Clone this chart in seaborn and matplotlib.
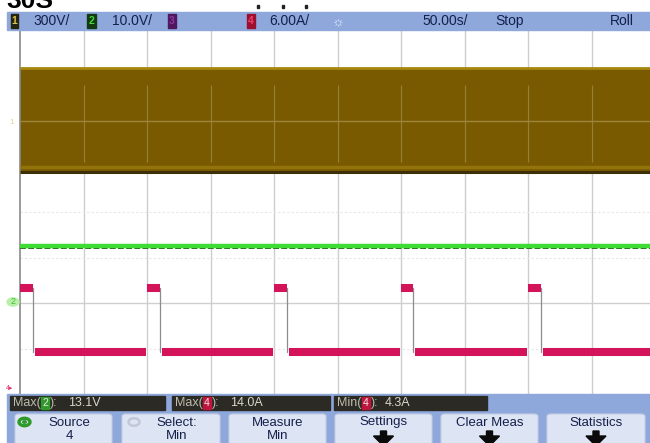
import matplotlib
matplotlib.use("Agg")
import matplotlib.pyplot as plt
import matplotlib.transforms as mtransforms
from matplotlib.patches import Rectangle, FancyBboxPatch, Polygon, Circle
import pandas as pd
import seaborn as sns

time_window_s = [0, 500]                       # 10 div x 50 s/div
ch1_env_hi_v = [348, 348]                      # AC mains envelope (rolled, looks like a band)
ch1_env_lo_v = [-336, -336]
ch2_level_v = [12.5, 12.5]                     # DC level (green)
ch2_fringe_v = [12.05, 12.05]
ch4_high_start_s = [0, 100, 200, 300, 400]     # pink current pulses
ch4_high_end_s = [10.2, 110.2, 210.2, 309.8, 410.2]
ch4_high_a = [13.3, 13.3, 13.3, 13.3, 13.3]
ch4_low_start_s = [11.8, 111.8, 211.8, 311.4, 411.8]
ch4_low_end_s = [99.2, 199.2, 299.2, 399.2, 500]
ch4_low_a = [4.8, 4.8, 4.8, 4.8, 4.8]

channel_ids = ["1", "2", "3", "4"]
channel_scales = ["300V/", "10.0V/", "", "6.00A/"]
timebase = "50.00s/"
run_state = "Stop"
mode = "Roll"
meas_names = ["Max", "Max", "Min"]
meas_channels = ["2", "4", "4"]
meas_values = ["13.1V", "14.0A", "4.3A"]
softkey_top = ["Source", "Select:", "Measure", "Settings", "Clear Meas", "Statistics"]
softkey_bottom = ["4", "Min", "Min", "", "", ""]

# vertical settings: units/div and ground position (divisions from bottom)
CH1_SCALE, CH1_GND = 300.0, 6.0
CH2_SCALE, CH2_GND = 10.0, 2.0
CH4_SCALE, CH4_GND = 6.0, 0.12

def to_div(vals, scale, gnd):
    return [v / scale + gnd for v in vals]

# ---------------- figure ----------------
sns.set_style("white")
plt.rcParams["font.family"] = ["Liberation Sans", "DejaVu Sans"]
W, H = 650, 443
fig = plt.figure(figsize=(W / 100, H / 100), dpi=100)
fig.patch.set_facecolor("white")

def FX(px): return px / W
def FY(py): return 1 - py / H

def prect(x0, y0, x1, y1, **kw):
    r = Rectangle((FX(x0), FY(y1)), (x1 - x0) / W, (y1 - y0) / H,
                  transform=fig.transFigure, **kw)
    fig.patches.append(r)
    return r

def ptext(x, y, s, **kw):
    kw.setdefault("va", "center")
    return fig.text(FX(x), FY(y), s, **kw)

ax = fig.add_axes([FX(20), FY(394), 635 / W, 364 / H])
ax.set_xlim(0, 500)
ax.set_ylim(0, 8)
ax.set_facecolor("white")
for s in ["top", "right", "bottom"]:
    ax.spines[s].set_visible(False)
ax.spines["left"].set_color("#8a8a8a")
ax.spines["left"].set_linewidth(1.2)
ax.set_xticks([])
ax.set_yticks([])

# graticule
for gx in range(50, 500, 50):
    ax.axvline(gx, color="#cdcdcd", lw=1.0, zorder=0)
for gy in range(1, 8):
    if gy == 2:
        ax.axhline(gy, color="#cfcfcf", lw=1.0, zorder=0)
    else:
        ax.axhline(gy, color="#e6e6e6", lw=0.8, ls=(0, (2, 2)), zorder=0)

# channel 1: AC band
t = time_window_s
hi1 = to_div(ch1_env_hi_v, CH1_SCALE, CH1_GND)
lo1 = to_div(ch1_env_lo_v, CH1_SCALE, CH1_GND)
ax.fill_between(t, lo1, hi1, color="#7a5a01", zorder=2, lw=0)
df1 = pd.DataFrame({"t": t + t, "y": hi1 + lo1, "edge": ["hi", "hi", "lo", "lo"]})
sns.lineplot(data=df1[df1.edge == "hi"], x="t", y="y", color="#a6870f", lw=2.0,
             ax=ax, legend=False, zorder=3, solid_capstyle="butt")
l_light = sns.lineplot(data=df1[df1.edge == "lo"], x="t", y="y", color="#91730a", lw=2.5,
                       ax=ax, legend=False, zorder=3, solid_capstyle="butt").lines[-1]
l_light.set_transform(ax.transData + mtransforms.ScaledTranslation(0, 5 / 100, fig.dpi_scale_trans))
sns.lineplot(data=df1[df1.edge == "lo"], x="t", y="y", color="#3e3006", lw=2.2,
             ax=ax, legend=False, zorder=3, solid_capstyle="butt")
# graticule seen through the band
ax.vlines(list(range(50, 500, 50)), 5.1, 6.79, colors="#96803a", lw=0.8, zorder=4)
ax.hlines(CH1_GND, 0, 500, colors="#9c863c", lw=1.0, zorder=4)

# channel 2: green DC level
df2 = pd.DataFrame({"t": t, "y": to_div(ch2_level_v, CH2_SCALE, CH2_GND)})
df2f = pd.DataFrame({"t": t, "y": to_div(ch2_fringe_v, CH2_SCALE, CH2_GND)})
sns.lineplot(data=df2f, x="t", y="y", color="#245e1c", lw=1.4, ls=(0, (3, 1.2)),
             ax=ax, legend=False, zorder=5)
sns.lineplot(data=df2, x="t", y="y", color="#3fdc36", lw=3.2,
             ax=ax, legend=False, zorder=6, solid_capstyle="butt")

# channel 4: pink pulses
rows_hi, rows_lo, rows_edge = [], [], []
for i, (s, e, v) in enumerate(zip(ch4_high_start_s, ch4_high_end_s, ch4_high_a)):
    y = v / CH4_SCALE + CH4_GND
    rows_hi += [(i, s, y), (i, e, y)]
for i, (s, e, v) in enumerate(zip(ch4_low_start_s, ch4_low_end_s, ch4_low_a)):
    y = v / CH4_SCALE + CH4_GND
    rows_lo += [(i, s, y), (i, e, y)]
for i, (e, vh, vl) in enumerate(zip(ch4_high_end_s, ch4_high_a, ch4_low_a)):
    rows_edge += [(i, e, vh / CH4_SCALE + CH4_GND), (i, e, vl / CH4_SCALE + CH4_GND)]
cols = ["seg", "t", "y"]
dfe = pd.DataFrame(rows_edge, columns=cols)
dfh = pd.DataFrame(rows_hi, columns=cols)
dfl = pd.DataFrame(rows_lo, columns=cols)
sns.lineplot(data=dfe, x="t", y="y", units="seg", estimator=None, color="#8c8c8c",
             lw=0.9, ax=ax, legend=False, zorder=6)
for d in (dfh, dfl):
    sns.lineplot(data=d, x="t", y="y", units="seg", estimator=None, color="#d3145b",
                 lw=5.8, ax=ax, legend=False, zorder=7, solid_capstyle="butt")
ax.set_xlabel("")
ax.set_ylabel("")

# ground markers at left
ptext(12, 122, channel_ids[0], color="#e6d49a", fontsize=6, ha="center")
fig.patches.append(Circle((FX(13), FY(302)), 6 / W, transform=fig.transFigure,
                          color="#b8f0a8", zorder=1))
ptext(13, 302, channel_ids[1], color="#3fbf36", fontsize=6.5, ha="center")
ptext(10, 388, channel_ids[3] + "▸", color="#e0306a", fontsize=5, ha="center")

# ---------------- header bar ----------------
HB = "#8ea8dc"
TXT = "#15204a"
prect(7, 12, 650, 30, color=HB, zorder=10)
chip_specs = [(11, 18, "#26240e", "#d6c24c"), (87, 96, "#143a14", "#3fdc36"),
              (168, 176, "#50165e", "#8a3aa0"), (247, 255, "#9c0f2e", "#f0406e")]
for (x0, x1, bg, fg), cid in zip(chip_specs, channel_ids):
    prect(x0, 14, x1, 28, color=bg, zorder=11)
    ptext((x0 + x1) / 2, 21, cid, color=fg, fontsize=7.5, ha="center", weight="bold", zorder=12)
scale_x = [33, 112, None, 269]
for x, lab in zip(scale_x, channel_scales):
    if x is not None and lab:
        ptext(x, 21, lab, color=TXT, fontsize=10, ha="left", zorder=12)
ptext(338, 21, "☼", color="#e6eeff", fontsize=10, ha="center", zorder=12)
ptext(422, 21, timebase, color=TXT, fontsize=10, ha="left", zorder=12)
ptext(495, 21, run_state, color=TXT, fontsize=10, ha="left", zorder=12)
ptext(610, 21, mode, color=TXT, fontsize=10, ha="left", zorder=12)

# cropped title remnants at top
fig.text(FX(6), FY(8), "30S", fontsize=19, weight="bold", color="black",
         ha="left", va="baseline")
for dx in (257, 282, 305):
    prect(dx, 5, dx + 2, 8, color="#222222", zorder=10)

# ---------------- measurement bar ----------------
prect(7, 394, 650, 443, color=HB, zorder=10)
meas_boxes = [(10, 165), (172, 330), (334, 487)]
chip_x = [41, 203, 362]
val_x = [68, 230, 385]
chip_col = {"2": "#2f9a2a", "4": "#c0143c"}
for (x0, x1), nm, ch, val, cx, vx in zip(meas_boxes, meas_names, meas_channels,
                                         meas_values, chip_x, val_x):
    prect(x0, 396, x1, 410, color="#2b2a24", zorder=11)
    ptext(x0 + 3, 403, nm + "(", color="#bdbcae", fontsize=9, ha="left", zorder=12)
    prect(cx, 397, cx + 8, 409, color=chip_col[ch], zorder=12)
    ptext(cx + 4, 403, ch, color="#e8e8e8", fontsize=7.5, ha="center", zorder=13)
    ptext(cx + 9, 403, "):", color="#bdbcae", fontsize=9, ha="left", zorder=12)
    ptext(vx, 403, val, color="#d8d7c8", fontsize=9, ha="left", zorder=12)

# ---------------- softkeys ----------------
keys = [(15, 112), (122, 220), (229, 326), (335, 432), (441, 538), (547, 645)]
for (x0, x1), top, bot in zip(keys, softkey_top, softkey_bottom):
    b = FancyBboxPatch((FX(x0), FY(448)), (x1 - x0) / W, 34 / H,
                       boxstyle="round,pad=0,rounding_size=0.006",
                       transform=fig.transFigure, facecolor="#dde4f4",
                       edgecolor="#c4cde4", lw=0.8, zorder=11)
    fig.patches.append(b)
    cx = (x0 + x1) / 2
    shift = 6 if x0 in (15, 122) else 0
    ptext(cx + shift, 422.5, top, color=TXT, fontsize=9.5, ha="center", zorder=12)
    if bot:
        ptext(cx + shift, 436, bot, color=TXT, fontsize=9.5, ha="center", zorder=12)
    else:
        arrow = Polygon([(FX(cx - 3), FY(431)), (FX(cx + 3), FY(431)), (FX(cx + 3), FY(436)),
                         (FX(cx + 10), FY(436)), (FX(cx), FY(446)), (FX(cx - 10), FY(436)),
                         (FX(cx - 3), FY(436))], closed=True, transform=fig.transFigure,
                        color="#0a0a0a", zorder=12)
        fig.patches.append(arrow)
# softkey icons
fig.patches.append(Circle((FX(24.5), FY(422)), 5.5 / W, transform=fig.transFigure,
                          facecolor="none", edgecolor="#2e9a2a", lw=2.4, zorder=12))
fig.patches.append(Circle((FX(24.5), FY(422)), 1.8 / W, transform=fig.transFigure,
                          color="#2e9a2a", zorder=12))
fig.patches.append(Circle((FX(134), FY(422)), 5.5 / W, transform=fig.transFigure,
                          facecolor="none", edgecolor="#c2c8d6", lw=1.8, zorder=12))

fig.savefig("out.png", dpi=100)
